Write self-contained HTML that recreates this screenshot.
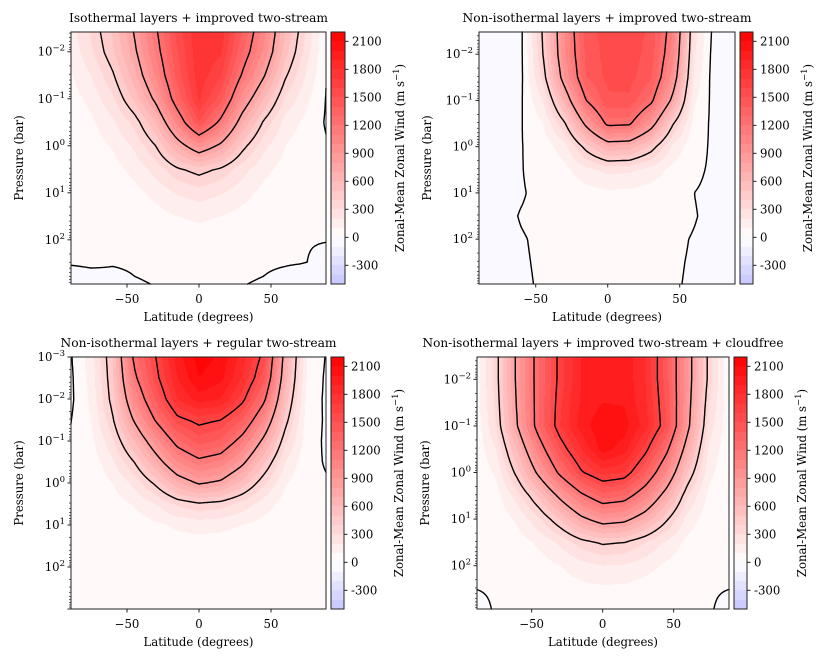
<!DOCTYPE html>
<html><head><meta charset="utf-8">
<style>
html,body{margin:0;padding:0;background:#fff;}
#wrap{position:relative;width:830px;height:664px;overflow:hidden;}
canvas,svg{position:absolute;left:0;top:0;}
text{font-family:"DejaVu Serif","Liberation Serif",serif;fill:#000;}
</style></head>
<body>
<div id="wrap">
<canvas id="cv" width="830" height="664"></canvas>
<svg id="sv" width="830" height="664" xmlns="http://www.w3.org/2000/svg"></svg>
</div>
<script>
// ---- data ----
const LATS=[-90,-75,-60,-45,-30,-15,0,15,30,45,60,75,90];
const LOGP=[-3,-2.5,-2,-1.5,-1,-0.5,0,0.5,1,1.5,2,2.5,3];
const LEVELS_A=[0,400,800,1200];
const LEVELS_B=[0,400,800,1200,1600];
const CB_TICKS=[-300,0,300,600,900,1200,1500,1800,2100];
const LAT_TICKS=[-50,0,50];
const P1_WIND=[
[150,320,520,820,1180,1550,1800,1780,1400,1050,600,280,-20],
[150,320,520,820,1180,1550,1800,1780,1400,1050,600,280,-20],
[120,280,480,760,1120,1500,1780,1720,1320,980,540,240,-20],
[80,200,380,660,1020,1450,1760,1620,1180,820,420,180,-20],
[50,130,280,520,850,1330,1720,1450,950,600,280,120,-20],
[30,80,180,330,600,1050,1500,1150,700,380,160,70,-20],
[20,50,110,220,400,700,950,760,450,230,100,40,5],
[10,30,60,130,240,380,450,380,240,130,60,25,5],
[5,15,30,70,130,210,250,210,140,70,30,10,5],
[0,10,15,35,60,100,120,100,65,35,15,5,3],
[3,5,8,15,25,40,50,40,25,15,8,3,2],
[5,10,3,6,10,15,20,15,10,6,3,0,-20],
[-60,-40,-20,-5,0,3,5,3,0,-5,-20,-40,-60]];
const P2_WIND=[
[-30,-60,-20,420,1000,1450,1550,1560,1480,1100,250,-60,-30],
[-30,-60,-20,420,1000,1450,1550,1560,1480,1100,250,-60,-30],
[-30,-70,-20,400,980,1430,1540,1550,1460,1050,220,-70,-30],
[-20,-70,-20,330,900,1400,1530,1540,1420,950,180,-70,-20],
[-10,-50,-10,200,650,1200,1480,1480,1250,750,120,-50,-10],
[-5,-30,-5,100,380,850,1250,1230,900,420,60,-30,-5],
[-5,-15,-3,40,160,450,680,660,470,180,25,-15,-5],
[-5,-10,-2,20,70,170,230,220,160,70,10,-10,-5],
[-10,-10,-3,10,30,60,80,75,55,25,0,-10,-10],
[-10,-10,2,8,15,25,30,28,22,12,2,-10,-10],
[-10,-10,-2,5,10,15,18,16,12,6,-2,-10,-10],
[-10,-10,-3,4,8,10,12,11,8,4,-3,-10,-10],
[-10,-10,-4,3,6,8,10,9,6,3,-4,-10,-10]];
const P3_WIND=[
[-20,150,500,1250,1600,1950,2150,2080,1850,1550,700,100,-20],
[-30,140,480,1150,1550,1900,2100,2030,1800,1450,650,90,-30],
[-30,120,450,1000,1420,1800,1950,1900,1650,1250,560,70,-30],
[-10,100,380,820,1220,1550,1650,1600,1400,1000,450,50,-20],
[5,70,280,600,950,1280,1450,1380,1120,750,320,40,-20],
[5,40,180,400,700,1000,1150,1080,850,520,200,25,-10],
[5,20,100,230,430,680,820,760,560,320,110,15,5],
[5,10,50,110,200,320,380,350,260,150,55,8,5],
[5,5,20,45,80,120,140,130,100,60,22,5,5],
[5,3,10,20,30,45,50,45,35,22,10,3,5],
[5,2,5,8,12,18,20,18,14,9,5,2,5],
[5,1,3,5,7,9,10,9,7,5,3,1,5],
[5,1,2,3,4,5,5,5,4,3,2,1,5]];
const P4_WIND=[
[30,350,850,1300,1650,1900,1980,1980,1800,1450,900,350,-10],
[30,350,850,1300,1650,1900,1980,1980,1800,1450,900,350,-10],
[30,350,850,1300,1650,1900,1980,1980,1800,1450,900,350,0],
[30,330,830,1300,1680,1920,2000,1990,1820,1480,880,300,10],
[20,300,800,1300,1700,1950,2080,2050,1850,1500,850,250,20],
[15,200,620,1080,1500,1800,2050,1950,1650,1250,680,180,10],
[10,120,450,850,1250,1580,1750,1700,1400,1000,500,130,10],
[5,60,250,520,850,1150,1350,1300,1050,700,300,70,5],
[5,30,120,280,500,750,900,860,680,420,160,35,5],
[5,15,50,120,220,350,420,400,300,180,70,15,5],
[5,5,20,50,100,160,200,190,140,80,30,5,5],
[0,5,10,25,45,70,80,75,55,30,10,5,0],
[-20,5,3,10,20,30,30,28,20,10,3,5,-20]];

const PANELS=[
 {id:'p1',title:'Isothermal layers + improved two-stream',tw:259,x0:71,x1:326,y0:32,y1:284,lat0:-88.9,lat1:88.2,lp0:-2.42,lp1:2.94,cbx:331,cbw:14,grid:P1_WIND,levels:LEVELS_A,yt:[-2,-1,0,1,2]},
 {id:'p2',title:'Non-isothermal layers + improved two-stream',tw:289,x0:479,x1:735,y0:32,y1:284,lat0:-89.4,lat1:88.4,lp0:-2.48,lp1:2.97,cbx:740,cbw:13,grid:P2_WIND,levels:LEVELS_A,yt:[-2,-1,0,1,2]},
 {id:'p3',title:'Non-isothermal layers + regular two-stream',tw:276,x0:71,x1:326,y0:357,y1:609,lat0:-88.9,lat1:88.2,lp0:-3,lp1:3,cbx:331,cbw:13,grid:P3_WIND,levels:LEVELS_B,yt:[-3,-2,-1,0,1,2]},
 {id:'p4',title:'Non-isothermal layers + improved two-stream + cloudfree',tw:361,x0:477,x1:729,y0:357,y1:609,lat0:-88.5,lat1:89,lp0:-2.48,lp1:2.93,cbx:734,cbw:13,grid:P4_WIND,levels:LEVELS_B,yt:[-2,-1,0,1,2]}
];
const CB_MIN=-500, CB_MAX=2200;
const FS=11.7;

// ---- helpers ----
const NS='http://www.w3.org/2000/svg';
const sv=document.getElementById('sv');
function mk(tag,attrs,parent){const e=document.createElementNS(NS,tag);for(const k in attrs)e.setAttribute(k,attrs[k]);(parent||sv).appendChild(e);return e;}
function field(g,lat,lp){
 let i=0;while(i<LATS.length-2&&lat>LATS[i+1])i++;
 let j=0;while(j<LOGP.length-2&&lp>LOGP[j+1])j++;
 let tx=(lat-LATS[i])/(LATS[i+1]-LATS[i]);tx=Math.max(0,Math.min(1,tx));
 let ty=(lp-LOGP[j])/(LOGP[j+1]-LOGP[j]);ty=Math.max(0,Math.min(1,ty));
 const a=g[j][i],b=g[j][i+1],c=g[j+1][i],d=g[j+1][i+1];
 return a*(1-tx)*(1-ty)+b*tx*(1-ty)+c*(1-tx)*ty+d*tx*ty;
}
function col(v){
 let q=Math.floor(v/100)*100+50;q=Math.max(CB_MIN+50,Math.min(CB_MAX-50,q));
 const t=q/2200;
 if(t>=0){const g=Math.round(255*(1-t));return [255,g,g];}
 const r=Math.round(255*(1+t));return [r,r,255];
}
const cv=document.getElementById('cv');const ctx=cv.getContext('2d');
const img=ctx.createImageData(830,664);
function setpx(x,y,c){const k=(y*830+x)*4;img.data[k]=c[0];img.data[k+1]=c[1];img.data[k+2]=c[2];img.data[k+3]=255;}
for(let k=0;k<img.data.length;k+=4){img.data[k]=255;img.data[k+1]=255;img.data[k+2]=255;img.data[k+3]=255;}

PANELS.forEach(P=>{
 const xs=lat=>P.x0+(lat-P.lat0)/(P.lat1-P.lat0)*(P.x1-P.x0);
 const ys=lp=>P.y0+(lp-P.lp0)/(P.lp1-P.lp0)*(P.y1-P.y0);
 const xinv=x=>P.lat0+(x-P.x0)/(P.x1-P.x0)*(P.lat1-P.lat0);
 const yinv=y=>P.lp0+(y-P.y0)/(P.y1-P.y0)*(P.lp1-P.lp0);
 const cby=v=>P.y0+(CB_MAX-v)/(CB_MAX-CB_MIN)*(P.y1-P.y0);
 for(let y=P.y0;y<P.y1;y++)for(let x=P.x0;x<P.x1;x++){setpx(x,y,col(field(P.grid,xinv(x+0.5),yinv(y+0.5))));}
 for(let y=P.y0;y<P.y1;y++){const v=CB_MAX-(y+0.5-P.y0)/(P.y1-P.y0)*(CB_MAX-CB_MIN);const c=col(v);for(let x=P.cbx;x<P.cbx+P.cbw;x++)setpx(x,y,c);}
 const g=mk('g',{});
 
 
 const st=2,nx=Math.ceil((P.x1-P.x0)/st)+1,ny=Math.ceil((P.y1-P.y0)/st)+1;
 const V=[];for(let j=0;j<ny;j++){V.push([]);for(let i=0;i<nx;i++){const x=Math.min(P.x1,P.x0+i*st),y=Math.min(P.y1,P.y0+j*st);V[j].push(field(P.grid,xinv(x),yinv(y)));}}
 P.levels.forEach(L=>{
  let d='';
  for(let j=0;j<ny-1;j++)for(let i=0;i<nx-1;i++){
   const a=V[j][i],b=V[j][i+1],c=V[j+1][i+1],e=V[j+1][i];
   const idx=(a>L?8:0)|(b>L?4:0)|(c>L?2:0)|(e>L?1:0);
   if(idx===0||idx===15)continue;
   const X0=Math.min(P.x1,P.x0+i*st),X1=Math.min(P.x1,P.x0+(i+1)*st),Y0=Math.min(P.y1,P.y0+j*st),Y1=Math.min(P.y1,P.y0+(j+1)*st);
   const T=[X0+(L-a)/(b-a)*(X1-X0),Y0],R=[X1,Y0+(L-b)/(c-b)*(Y1-Y0)],B=[X0+(L-e)/(c-e)*(X1-X0),Y1],Lf=[X0,Y0+(L-a)/(e-a)*(Y1-Y0)];
   const segs={1:[[Lf,B]],2:[[B,R]],3:[[Lf,R]],4:[[T,R]],5:[[T,Lf],[B,R]],6:[[T,B]],7:[[T,Lf]],8:[[T,Lf]],9:[[T,B]],10:[[T,R],[Lf,B]],11:[[T,R]],12:[[Lf,R]],13:[[B,R]],14:[[Lf,B]]}[idx];
   segs.forEach(s=>{d+='M'+s[0][0].toFixed(1)+' '+s[0][1].toFixed(1)+'L'+s[1][0].toFixed(1)+' '+s[1][1].toFixed(1);});
  }
  if(d){const p=mk('path',{d:d,fill:'none',stroke:'#000','stroke-width':1.4,'stroke-linecap':'round'},g);
   
   }
 });
 const fr=mk('rect',{x:P.x0,y:P.y0,width:P.x1-P.x0,height:P.y1-P.y0,fill:'none',stroke:'#222','stroke-width':1},g);
 
 
 const cf=mk('rect',{x:P.cbx,y:P.y0,width:P.cbw,height:P.y1-P.y0,fill:'none',stroke:'#222','stroke-width':1},g);
 
 
 const t=mk('text',{x:(P.x0+P.x1)/2,y:P.y0-10,'text-anchor':'middle','font-size':FS,textLength:P.tw,lengthAdjust:'spacingAndGlyphs'},g);
 t.textContent=P.title;
 
 
 LAT_TICKS.forEach(v=>{const x=xs(v);
  mk('line',{x1:x,x2:x,y1:P.y1,y2:P.y1+3.5,stroke:'#222'},g);
  const tl=mk('text',{x:x,y:P.y1+19,'text-anchor':'middle','font-size':FS},g);
  tl.textContent=v<0?'\u2212'+Math.abs(v):String(v);
  
  });
 const xl=mk('text',{x:(P.x0+P.x1)/2,y:P.y1+37,'text-anchor':'middle','font-size':FS},g);
 xl.textContent='Latitude (degrees)';
 
 
 for(let dcd=Math.floor(P.lp0)-1;dcd<=Math.ceil(P.lp1);dcd++){
  for(let m=1;m<10;m++){const lp=dcd+Math.log10(m);if(lp<P.lp0-1e-6||lp>P.lp1+1e-6)continue;const y=ys(lp);
   mk('line',{x1:P.x0-(m===1?3.5:2),x2:P.x0,y1:y,y2:y,stroke:'#222','stroke-width':m===1?1:0.7},g);}
 }
 P.yt.forEach(v=>{const y=ys(v);
  const tl=mk('text',{x:P.x0-6,y:y+4,'text-anchor':'end','font-size':FS},g);
  
  
  const a=document.createElementNS(NS,'tspan');a.textContent='10';tl.appendChild(a);
  const s=document.createElementNS(NS,'tspan');s.setAttribute('font-size','8.5');s.setAttribute('dy','-5');s.textContent=v<0?'\u2212'+Math.abs(v):String(v);tl.appendChild(s);});
 const yl=mk('text',{x:0,y:0,'text-anchor':'middle','font-size':FS,transform:'translate('+(P.x0-48)+','+((P.y0+P.y1)/2)+') rotate(-90)'},g);
 yl.textContent='Pressure (bar)';
 
 
 CB_TICKS.forEach(v=>{const y=cby(v);const x=P.cbx+P.cbw;
  mk('line',{x1:x,x2:x+3.5,y1:y,y2:y,stroke:'#222'},g);
  const tl=mk('text',{x:x+7,y:y+4,'font-size':FS},g);
  tl.textContent=String(v);
  
  });
 const cl=mk('text',{x:0,y:0,'text-anchor':'middle','font-size':FS,transform:'translate('+(P.cbx+P.cbw+59)+','+((P.y0+P.y1)/2)+') rotate(-90)'},g);
 
 
 const c1=document.createElementNS(NS,'tspan');c1.textContent='Zonal-Mean Zonal Wind (m s';cl.appendChild(c1);
 const c2=document.createElementNS(NS,'tspan');c2.setAttribute('font-size','8.5');c2.setAttribute('dy','-5');c2.textContent='\u22121';cl.appendChild(c2);
 const c3=document.createElementNS(NS,'tspan');c3.setAttribute('dy','5');c3.textContent=')';cl.appendChild(c3);
});
ctx.putImageData(img,0,0);
</script>
</body></html>
